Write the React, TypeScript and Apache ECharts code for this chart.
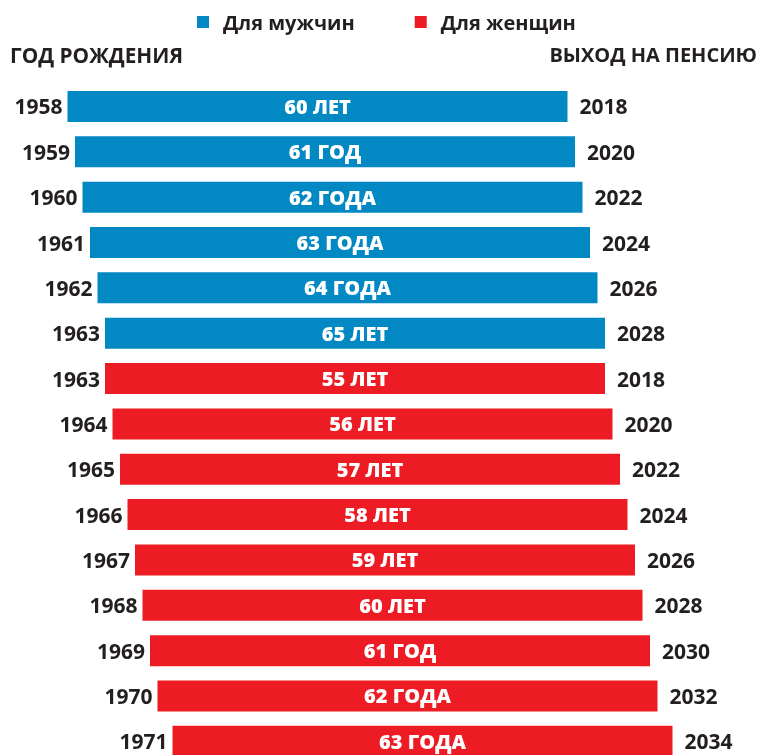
import React, { useEffect, useRef } from "react";
import * as echarts from "echarts";

const birthYears = [1958, 1959, 1960, 1961, 1962, 1963, 1963, 1964, 1965, 1966, 1967, 1968, 1969, 1970, 1971];
const retireYears = [2018, 2020, 2022, 2024, 2026, 2028, 2018, 2020, 2022, 2024, 2026, 2028, 2030, 2032, 2034];
const ageLabels = ["60 ЛЕТ", "61 ГОД", "62 ГОДА", "63 ГОДА", "64 ГОДА", "65 ЛЕТ", "55 ЛЕТ", "56 ЛЕТ", "57 ЛЕТ", "58 ЛЕТ", "59 ЛЕТ", "60 ЛЕТ", "61 ГОД", "62 ГОДА", "63 ГОДА"];
const sexes = ["m", "m", "m", "m", "m", "m", "f", "f", "f", "f", "f", "f", "f", "f", "f"];
const barShifts = [0, 1, 2, 3, 4, 5, 5, 6, 7, 8, 9, 10, 11, 12, 14];
const legendNames = ["Для мужчин", "Для женщин"];
const headerLeft = "ГОД РОЖДЕНИЯ";
const headerRight = "ВЫХОД НА ПЕНСИЮ";

const SHIFT_STEP = 1.5;
const BAR_LEN = 100;
const TAIL_LEN = 20;
const BLUE = "#0289c3";
const RED = "#ed1c24";
const TEXT = "#231f20";
const FONT = "'Open Sans', 'Noto Sans', sans-serif";

export default function App() {
  const ref = useRef<HTMLDivElement>(null);
  useEffect(() => {
    if (!ref.current) return;
    const chart = echarts.init(ref.current, null, { renderer: "svg" });
    const rows = birthYears.map((_, i) => `row${i}`);
    const ageLabel = {
      show: true,
      position: "inside",
      color: "#fff",
      fontFamily: FONT,
      fontWeight: 800,
      fontSize: 20,
      formatter: (p: any) => ageLabels[p.dataIndex],
    };
    chart.setOption({
      animation: false,
      textStyle: { fontFamily: FONT },
      legend: {
        data: legendNames,
        left: 197,
        top: 12,
        padding: 0,
        icon: "rect",
        itemWidth: 12,
        itemHeight: 12,
        itemGap: 60,
        selectedMode: false,
        textStyle: { fontFamily: FONT, fontSize: 20, fontWeight: "bold", color: TEXT, padding: [0, 0, 0, 9] },
      },
      graphic: [
        {
          type: "text",
          left: 10,
          top: 44,
          style: { text: headerLeft, fontFamily: FONT, fontSize: 20.8, fontWeight: "bold", fill: TEXT },
        },
        {
          type: "text",
          right: 2,
          top: 44,
          style: { text: headerRight, fontFamily: FONT, fontSize: 20, fontWeight: "bold", fill: TEXT },
        },
      ],
      grid: { left: 67.5, right: 41.5, top: 83.8, bottom: 0, containLabel: false },
      xAxis: { type: "value", min: 0, max: 130, show: false },
      yAxis: { type: "category", data: rows, inverse: true, show: false },
      series: [
        {
          type: "bar",
          stack: "s",
          barWidth: 31,
          silent: true,
          itemStyle: { color: "transparent" },
          label: {
            show: true,
            position: "insideRight",
            distance: 5,
            color: TEXT,
            fontFamily: FONT,
            fontWeight: "bold",
            fontSize: 21,
            formatter: (p: any) => String(birthYears[p.dataIndex]),
          },
          data: barShifts.map((s) => s * SHIFT_STEP),
        },
        {
          name: legendNames[0],
          type: "bar",
          stack: "s",
          barWidth: 31,
          itemStyle: { color: BLUE },
          label: ageLabel,
          data: sexes.map((s) => (s === "m" ? BAR_LEN : "-")),
        },
        {
          name: legendNames[1],
          type: "bar",
          stack: "s",
          barWidth: 31,
          itemStyle: { color: RED },
          label: ageLabel,
          data: sexes.map((s) => (s === "f" ? BAR_LEN : "-")),
        },
        {
          type: "bar",
          stack: "s",
          barWidth: 31,
          silent: true,
          itemStyle: { color: "transparent" },
          label: {
            show: true,
            position: "insideLeft",
            distance: 12,
            color: TEXT,
            fontFamily: FONT,
            fontWeight: "bold",
            fontSize: 21,
            formatter: (p: any) => String(retireYears[p.dataIndex]),
          },
          data: sexes.map(() => TAIL_LEN),
        },
      ],
    });
    return () => chart.dispose();
  }, []);
  return <div ref={ref} style={{ position: "fixed", left: 0, top: 0, width: 759, height: 764 }} />;
}
